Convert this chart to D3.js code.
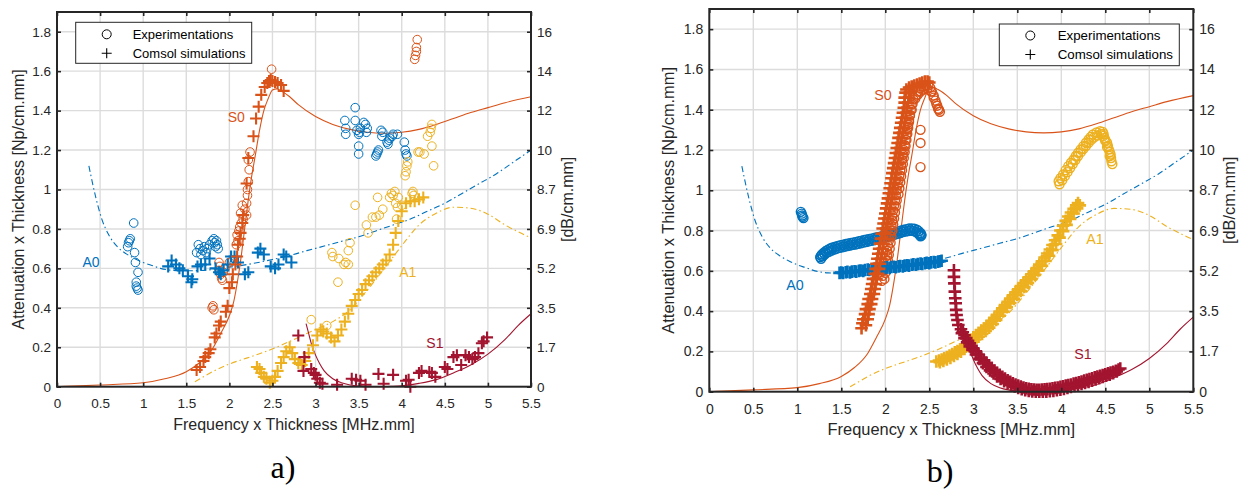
<!DOCTYPE html>
<html><head><meta charset="utf-8">
<script src="https://cdn.jsdelivr.net/npm/d3@7"></script>
<style>
body{margin:0;background:#fff}
svg{display:block}
</style>
</head><body>
<svg id="c" width="1242" height="490"></svg>
<script>
// ---------- ticks ----------
const xTicks = [0,0.5,1,1.5,2,2.5,3,3.5,4,4.5,5,5.5];
const xTickLabels = ["0","0.5","1","1.5","2","2.5","3","3.5","4","4.5","5","5.5"];
const yTicks = [0,0.2,0.4,0.6,0.8,1,1.2,1.4,1.6,1.8];
const yTickLabels = ["0","0.2","0.4","0.6","0.8","1","1.2","1.4","1.6","1.8"];
const yRightTickLabels = ["0","1.7","3.5","5.2","6.9","8.7","10","12","14","16"];

// ---------- theoretical curves (same in both panels) ----------
const thS0X = [0,0.5,1.0,1.25,1.5,1.65,1.8,1.9,2.0,2.05,2.1,2.14,2.18,2.22,2.26,2.3,2.35,2.4,2.45,2.5,2.55,2.6,2.7,2.8,3.0,3.2,3.4,3.6,3.8,4.0,4.2,4.4,4.6,4.8,5.0,5.2,5.5];
const thS0Y = [0,0.009,0.02,0.04,0.076,0.12,0.19,0.27,0.36,0.43,0.55,0.67,0.81,0.95,1.07,1.17,1.30,1.40,1.46,1.505,1.51,1.50,1.47,1.43,1.37,1.33,1.305,1.29,1.285,1.29,1.305,1.33,1.36,1.39,1.415,1.44,1.47];
const thA0X = [0.37,0.45,0.52,0.6,0.7,0.8,0.9,1.0,1.1,1.2,1.35,1.5,1.7,1.9,2.1,2.3,2.5,2.7,2.9,3.1,3.3,3.5,3.7,3.9,4.1,4.3,4.5,4.7,4.9,5.1,5.3,5.5];
const thA0Y = [1.12,0.96,0.85,0.77,0.71,0.675,0.65,0.63,0.615,0.60,0.59,0.588,0.59,0.60,0.612,0.627,0.645,0.665,0.69,0.713,0.737,0.76,0.79,0.82,0.85,0.89,0.93,0.98,1.03,1.08,1.14,1.20];
const thA1X = [1.6,1.7,1.8,2.0,2.2,2.4,2.6,2.8,3.0,3.2,3.4,3.6,3.8,4.0,4.2,4.4,4.6,4.8,5.0,5.2,5.4,5.5];
const thA1Y = [0.025,0.05,0.075,0.115,0.145,0.175,0.21,0.25,0.29,0.33,0.39,0.49,0.6,0.715,0.82,0.88,0.91,0.905,0.875,0.82,0.775,0.755];
const thS1X = [2.89,2.92,2.95,3.0,3.05,3.1,3.2,3.3,3.4,3.5,3.6,3.7,3.8,3.9,4.0,4.2,4.4,4.6,4.8,5.0,5.2,5.35,5.5];
const thS1Y = [0.32,0.27,0.22,0.16,0.115,0.08,0.04,0.02,0.009,0.003,0.0,0.0,0.0,0.002,0.005,0.017,0.036,0.07,0.11,0.165,0.24,0.31,0.37];

// ---------- panel a) measured / simulated points ----------
const aExpA0 = [[0.82,0.71],[0.83,0.73],[0.84,0.74],[0.85,0.75],[0.89,0.83],[0.90,0.68],[0.91,0.63],[0.94,0.58],[0.92,0.53],[0.92,0.51],[0.93,0.50],[0.94,0.49],
 [1.62,0.68],[1.64,0.72],[1.66,0.70],[1.67,0.67],[1.69,0.69],[1.71,0.71],[1.73,0.68],[1.74,0.70],[1.77,0.72],[1.80,0.74],[1.82,0.75],[1.83,0.73],[1.84,0.71],[1.85,0.74],[1.86,0.72],[1.87,0.70],
 [3.34,1.35],[3.35,1.31],[3.35,1.28],[3.46,1.415],[3.46,1.35],[3.48,1.30],[3.50,1.28],[3.51,1.29],[3.52,1.31],[3.50,1.22],[3.50,1.18],[3.56,1.34],[3.58,1.33],[3.60,1.31],[3.59,1.29],
 [3.70,1.17],[3.71,1.18],[3.72,1.19],[3.73,1.20],[3.76,1.30],[3.78,1.29],[3.77,1.27],[3.83,1.24],[3.85,1.25],[3.84,1.23],[3.86,1.26],[3.89,1.27],[3.90,1.28],[3.95,1.28],[4.03,1.24],[4.04,1.20],[4.05,1.18],[4.06,1.17]];
const aSimA0 = [[1.29,0.61],[1.33,0.64],[1.38,0.62],[1.42,0.60],[1.46,0.59],[1.52,0.56],[1.57,0.545],[1.56,0.53],[1.63,0.61],[1.67,0.62],[1.72,0.62],[1.77,0.65],[1.84,0.60],[1.88,0.58],[1.93,0.59],[1.90,0.57],[1.98,0.62],[2.02,0.66],[2.06,0.66],[2.10,0.63],[2.18,0.57],[2.22,0.58],[2.33,0.68],[2.36,0.70],[2.40,0.67],[2.48,0.61],[2.53,0.60],[2.57,0.62],[2.63,0.67],[2.66,0.66],[2.72,0.63]];
const aExpS0 = [[1.80,0.40],[1.81,0.41],[1.82,0.39],[1.88,0.63],[1.89,0.61],[1.88,0.59],[1.90,0.57],[1.91,0.55],[1.92,0.54],[1.93,0.58],[1.95,0.60],[2.00,0.63],[2.04,0.64],[2.08,0.72],[2.10,0.74],[2.09,0.77],[2.11,0.79],[2.12,0.81],[2.14,0.83],[2.16,0.85],[2.13,0.88],[2.15,0.92],[2.18,0.90],[2.20,0.87],[2.20,0.93],[2.21,0.97],[2.21,1.00],[2.22,1.04],[2.23,1.10],[2.22,1.15],[2.24,1.19],
 [2.49,1.61],[4.15,1.66],[4.16,1.68],[4.17,1.70],[4.17,1.72],[4.18,1.76]];
const aSimS0 = [[1.62,0.085],[1.66,0.10],[1.70,0.13],[1.72,0.15],[1.76,0.17],[1.78,0.19],[1.83,0.25],[1.85,0.27],[1.88,0.31],[1.90,0.33],[1.96,0.38],[1.98,0.41],[2.00,0.50],[2.03,0.53],[2.04,0.57],[2.07,0.62],[2.09,0.66],[2.10,0.72],[2.12,0.75],[2.13,0.78],[2.15,0.83],[2.16,0.87],[2.20,1.03],[2.22,1.16],[2.28,1.27],[2.31,1.36],[2.34,1.42],[2.37,1.48],[2.41,1.52],[2.44,1.54],[2.46,1.55],[2.48,1.555],[2.50,1.55],[2.53,1.545],[2.56,1.54],[2.60,1.53],[2.63,1.50]];
const aExpA1 = [[2.95,0.34],[3.13,0.31],[3.19,0.68],[3.20,0.66],[3.26,0.53],[3.27,0.65],[3.33,0.62],[3.35,0.63],[3.38,0.62],[3.38,0.69],[3.40,0.73],[3.46,0.92],[3.59,0.82],[3.61,0.78],[3.66,0.86],[3.70,0.86],[3.72,0.96],[3.74,0.87],[3.78,0.90],[3.86,0.96],[3.88,0.98],[3.90,0.97],[3.92,0.99],[3.93,0.93],[3.95,0.91],[3.96,0.96],[3.94,0.85],[4.00,0.92],[4.04,1.07],[4.05,1.09],[4.06,1.12],[4.07,1.14],[4.12,0.98],[4.13,0.99],[4.14,0.97],[4.19,1.19],[4.21,1.19],[4.26,1.18],[4.30,1.27],[4.33,1.29],[4.34,1.31],[4.35,1.33],[4.35,1.22],[4.37,1.12]];
const aSimA1 = [[2.32,0.10],[2.35,0.09],[2.37,0.07],[2.40,0.05],[2.43,0.04],[2.47,0.02],[2.50,0.03],[2.53,0.05],[2.56,0.08],[2.60,0.12],[2.63,0.15],[2.66,0.18],[2.70,0.20],[2.73,0.17],[2.76,0.14],[2.80,0.12],[2.84,0.11],[2.88,0.13],[2.92,0.17],[2.97,0.21],[3.02,0.26],[3.06,0.29],[3.09,0.28],[3.13,0.27],[3.18,0.25],[3.22,0.23],[3.26,0.26],[3.30,0.29],[3.34,0.33],[3.38,0.37],[3.42,0.41],[3.46,0.44],[3.50,0.47],[3.54,0.49],[3.58,0.52],[3.62,0.54],[3.66,0.56],[3.70,0.58],[3.74,0.60],[3.78,0.62],[3.82,0.64],[3.86,0.67],[3.90,0.72],[3.93,0.78],[3.96,0.84],[4.00,0.89],[4.05,0.93],[4.10,0.94],[4.15,0.94],[4.20,0.95],[4.25,0.96]];
const aSimS1 = [[2.80,0.26],[2.87,0.15],[2.86,0.08],[2.95,0.09],[2.98,0.07],[3.00,0.06],[3.02,0.04],[3.05,0.02],[3.08,0.015],[3.25,0.01],[3.42,0.04],[3.47,0.035],[3.52,0.03],[3.58,0.01],[3.73,0.065],[3.79,0.015],[3.90,0.06],[4.05,0.03],[4.08,0.035],[4.10,0.00],[4.20,0.07],[4.23,0.08],[4.32,0.075],[4.35,0.07],[4.39,0.05],[4.50,0.10],[4.53,0.09],[4.60,0.15],[4.64,0.16],[4.69,0.11],[4.74,0.16],[4.78,0.15],[4.82,0.14],[4.85,0.15],[4.89,0.17],[4.93,0.22],[4.95,0.23],[4.99,0.25]];

// ---------- panel b) measured / simulated points (dense bands: upper and lower edges) ----------
const bExpA0 = [[1.04,0.893],[1.05,0.884],[1.055,0.875],[1.06,0.868],[1.07,0.862],
 [1.26,0.668],[1.27,0.675],[1.28,0.682],[1.30,0.690],[1.32,0.697],[1.34,0.703],[1.36,0.708],[1.38,0.712],[1.40,0.716],[1.43,0.720],[1.46,0.724],[1.49,0.727],[1.52,0.730],[1.55,0.733],[1.58,0.736],[1.61,0.739],[1.64,0.741],[1.67,0.744],[1.70,0.747],[1.73,0.750],[1.76,0.753],[1.79,0.756],[1.82,0.758],[1.85,0.761],[1.88,0.764],[1.91,0.767],[1.94,0.770],[1.97,0.773],[2.00,0.776],[2.03,0.780],[2.06,0.784],[2.09,0.788],[2.12,0.792],[2.15,0.796],[2.18,0.800],[2.21,0.804],[2.24,0.807],[2.27,0.810],[2.30,0.811],[2.33,0.809],[2.36,0.804],[2.38,0.797],[2.40,0.788],[2.41,0.780],[2.41,0.775]];
const bExpA0Low = [[1.27,0.660],[1.29,0.672],[1.31,0.681],[1.33,0.688],[1.36,0.695],[1.39,0.701],[1.42,0.706],[1.45,0.710],[1.48,0.714],[1.51,0.717],[1.54,0.720],[1.57,0.723],[1.60,0.726],[1.63,0.729],[1.66,0.731],[1.69,0.734],[1.72,0.737],[1.75,0.740],[1.78,0.743],[1.81,0.746],[1.84,0.749],[1.87,0.752],[1.90,0.755],[1.93,0.758],[1.96,0.761],[1.99,0.764],[2.02,0.768],[2.05,0.772],[2.08,0.776],[2.11,0.780],[2.14,0.784],[2.17,0.788],[2.20,0.792],[2.23,0.795],[2.26,0.798],[2.29,0.800],[2.32,0.798],[2.35,0.793],[2.37,0.786],[2.39,0.779],[2.40,0.772]];
const bSimA0 = [[1.48,0.590],[1.50,0.592],[1.52,0.589],[1.55,0.593],[1.57,0.595],[1.60,0.592],[1.62,0.596],[1.65,0.598],[1.67,0.596],[1.70,0.600],[1.72,0.602],[1.75,0.600],[1.77,0.604],[1.80,0.606],[1.82,0.604],[1.85,0.608],[1.87,0.610],[1.90,0.608],[1.92,0.612],[1.95,0.613],[1.97,0.611],[2.00,0.615],[2.02,0.617],[2.05,0.615],[2.07,0.619],[2.10,0.620],[2.12,0.618],[2.15,0.622],[2.17,0.624],[2.20,0.622],[2.22,0.626],[2.25,0.628],[2.27,0.626],[2.30,0.630],[2.32,0.632],[2.35,0.630],[2.37,0.634],[2.40,0.636],[2.42,0.634],[2.45,0.638],[2.47,0.640],[2.50,0.638],[2.52,0.642],[2.55,0.644],[2.57,0.642],[2.60,0.646],[2.62,0.648],[2.64,0.650]];
const bExpS0 = [[1.96,0.55],[1.97,0.575],[1.98,0.60],[1.99,0.625],[2.01,0.65],[2.02,0.675],[2.02,0.70],[2.03,0.725],[2.04,0.75],[2.05,0.775],[2.06,0.80],[2.07,0.825],[2.08,0.85],[2.08,0.875],[2.09,0.90],[2.10,0.925],[2.11,0.95],[2.12,0.975],[2.13,1.00],[2.14,1.025],[2.15,1.05],[2.16,1.075],[2.17,1.10],[2.18,1.125],[2.19,1.15],[2.20,1.175],[2.21,1.20],[2.22,1.225],[2.23,1.25],[2.24,1.275],[2.25,1.30],[2.26,1.325],[2.27,1.35],[2.28,1.375],[2.29,1.40],[2.30,1.425],[2.32,1.45],[2.35,1.47],[2.37,1.49],[2.40,1.505],[2.43,1.515],[2.46,1.52],[2.49,1.52],[2.51,1.51],[2.53,1.49],[2.55,1.47],[2.57,1.445],[2.59,1.42],[2.61,1.40],[2.62,1.39],
 [2.40,1.30],[2.40,1.235],[2.40,1.115]];
const bExpS0Right = [[1.99,0.56],[2.00,0.59],[2.01,0.62],[2.03,0.65],[2.04,0.68],[2.05,0.71],[2.06,0.74],[2.07,0.77],[2.08,0.80],[2.09,0.83],[2.10,0.86],[2.11,0.89],[2.12,0.92],[2.13,0.95],[2.15,0.98],[2.16,1.01],[2.17,1.04],[2.18,1.07],[2.19,1.10],[2.20,1.13],[2.21,1.16],[2.22,1.19],[2.23,1.22],[2.24,1.25],[2.25,1.28],[2.26,1.31],[2.27,1.34],[2.28,1.37],[2.30,1.40],[2.31,1.43],[2.34,1.455],[2.37,1.475],[2.40,1.49],[2.44,1.50],[2.48,1.505],[2.52,1.49],[2.55,1.46],[2.58,1.43],[2.60,1.405]];
const bSimS0 = [[1.73,0.315],[1.74,0.34],[1.75,0.36],[1.77,0.385],[1.78,0.41],[1.80,0.435],[1.81,0.46],[1.83,0.485],[1.84,0.51],[1.85,0.535],[1.86,0.56],[1.88,0.585],[1.89,0.61],[1.90,0.635],[1.91,0.66],[1.92,0.685],[1.93,0.71],[1.94,0.735],[1.95,0.76],[1.96,0.785],[1.97,0.81],[1.98,0.835],[1.99,0.86],[2.00,0.885],[2.01,0.91],[2.02,0.935],[2.03,0.96],[2.04,0.985],[2.05,1.01],[2.06,1.035],[2.07,1.06],[2.08,1.085],[2.09,1.11],[2.10,1.135],[2.11,1.16],[2.12,1.185],[2.13,1.21],[2.14,1.235],[2.15,1.26],[2.16,1.285],[2.17,1.31],[2.18,1.335],[2.19,1.36],[2.20,1.385],[2.21,1.41],[2.22,1.435],[2.22,1.46],[2.23,1.485],[2.24,1.50],[2.27,1.51],[2.30,1.515],[2.33,1.52],[2.36,1.525],[2.39,1.53],[2.42,1.535],[2.45,1.54],[2.48,1.54],[2.50,1.535]];
const bSimS0Right = [[1.78,0.33],[1.80,0.36],[1.81,0.385],[1.82,0.41],[1.84,0.435],[1.85,0.46],[1.87,0.485],[1.88,0.51],[1.89,0.535],[1.90,0.56],[1.92,0.585],[1.93,0.61],[1.94,0.635],[1.95,0.66],[1.96,0.685],[1.97,0.71],[1.98,0.735],[1.99,0.76],[2.00,0.785],[2.01,0.81],[2.02,0.835],[2.03,0.86],[2.04,0.885],[2.05,0.91],[2.06,0.935],[2.07,0.96],[2.08,0.985],[2.09,1.01],[2.10,1.035],[2.11,1.06],[2.12,1.085],[2.13,1.11],[2.14,1.135],[2.15,1.16],[2.16,1.185],[2.17,1.21],[2.18,1.235],[2.19,1.26],[2.20,1.285],[2.21,1.31],[2.22,1.335],[2.23,1.36],[2.24,1.385],[2.25,1.41],[2.26,1.435],[2.27,1.46],[2.29,1.485]];
const bExpA1 = [[3.97,1.045],[3.99,1.06],[4.02,1.078],[4.05,1.10],[4.08,1.12],[4.11,1.137],[4.14,1.153],[4.165,1.17],[4.19,1.186],[4.22,1.203],[4.25,1.219],[4.28,1.236],[4.31,1.252],[4.335,1.265],[4.36,1.277],[4.40,1.287],[4.44,1.293],[4.47,1.29],[4.48,1.28],[4.49,1.26],[4.50,1.25],[4.52,1.236],[4.53,1.22],[4.54,1.203],[4.55,1.19],[4.56,1.178],[4.565,1.16],[4.57,1.144]];
const bExpA1Low = [[3.98,1.03],[4.01,1.05],[4.04,1.07],[4.07,1.09],[4.10,1.11],[4.13,1.13],[4.16,1.15],[4.19,1.17],[4.22,1.188],[4.25,1.205],[4.28,1.22],[4.31,1.236],[4.34,1.25],[4.37,1.262],[4.41,1.272],[4.45,1.278],[4.48,1.27],[4.50,1.245],[4.52,1.215],[4.55,1.17],[4.58,1.13]];
const bSimA1 = [[2.58,0.150],[2.61,0.155],[2.64,0.160],[2.67,0.166],[2.70,0.172],[2.73,0.180],[2.76,0.187],[2.79,0.195],[2.82,0.202],[2.85,0.210],[2.88,0.220],[2.91,0.232],[2.94,0.245],[2.97,0.258],[3.00,0.270],[3.03,0.281],[3.06,0.292],[3.09,0.303],[3.12,0.314],[3.15,0.326],[3.18,0.338],[3.21,0.352],[3.24,0.367],[3.27,0.382],[3.30,0.398],[3.33,0.414],[3.36,0.430],[3.39,0.446],[3.42,0.463],[3.45,0.479],[3.48,0.494],[3.51,0.509],[3.54,0.524],[3.57,0.539],[3.60,0.553],[3.63,0.568],[3.66,0.583],[3.69,0.598],[3.72,0.614],[3.75,0.631],[3.78,0.648],[3.81,0.666],[3.84,0.686],[3.87,0.706],[3.90,0.728],[3.93,0.752],[3.96,0.776],[3.99,0.800],[4.02,0.824],[4.05,0.848],[4.08,0.870],[4.11,0.890],[4.14,0.908],[4.17,0.925],[4.19,0.937]];
const bSimA1Low = [[2.62,0.146],[2.66,0.153],[2.70,0.160],[2.74,0.168],[2.78,0.178],[2.82,0.188],[2.86,0.199],[2.90,0.212],[2.94,0.228],[2.98,0.244],[3.02,0.259],[3.06,0.273],[3.10,0.287],[3.14,0.302],[3.18,0.318],[3.22,0.336],[3.26,0.356],[3.30,0.377],[3.34,0.398],[3.38,0.419],[3.42,0.440],[3.46,0.461],[3.50,0.481],[3.54,0.500],[3.58,0.520],[3.62,0.540],[3.66,0.560],[3.70,0.580],[3.74,0.602],[3.78,0.625],[3.82,0.649],[3.86,0.675],[3.90,0.703],[3.94,0.733],[3.98,0.765],[4.02,0.797],[4.06,0.828],[4.10,0.858],[4.14,0.885],[4.18,0.910],[4.21,0.925]];
const bSimS1 = [[2.78,0.603],[2.78,0.570],[2.785,0.538],[2.79,0.497],[2.795,0.464],[2.80,0.439],[2.805,0.406],[2.81,0.381],[2.82,0.356],[2.83,0.331],
 [2.86,0.31],[2.88,0.295],[2.90,0.28],[2.92,0.266],[2.94,0.253],[2.96,0.24],[2.98,0.228],[3.00,0.216],[3.03,0.20],[3.06,0.185],[3.09,0.17],[3.12,0.156],[3.15,0.142],[3.18,0.129],[3.21,0.117],[3.24,0.105],[3.27,0.094],[3.30,0.084],[3.33,0.074],[3.36,0.065],[3.39,0.057],[3.42,0.049],[3.45,0.042],[3.48,0.036],[3.51,0.030],[3.54,0.025],[3.57,0.021],[3.60,0.017],[3.63,0.014],[3.66,0.012],[3.69,0.011],[3.72,0.010],[3.75,0.010],[3.78,0.011],[3.81,0.012],[3.84,0.013],[3.87,0.015],[3.90,0.017],[3.93,0.019],[3.96,0.021],[3.99,0.024],[4.02,0.027],[4.05,0.030],[4.08,0.033],[4.11,0.036],[4.14,0.040],[4.17,0.043],[4.20,0.047],[4.23,0.051],[4.26,0.055],[4.29,0.059],[4.32,0.063],[4.35,0.067],[4.38,0.071],[4.41,0.075],[4.44,0.079],[4.47,0.083],[4.50,0.087],[4.53,0.091],[4.56,0.095],[4.59,0.099],[4.62,0.104],[4.65,0.110],[4.67,0.115]];
const bSimS1Low = [[2.87,0.29],[2.90,0.265],[2.93,0.245],[2.96,0.225],[2.99,0.207],[3.03,0.185],[3.07,0.163],[3.11,0.142],[3.15,0.123],[3.19,0.106],[3.23,0.09],[3.27,0.076],[3.31,0.063],[3.35,0.052],[3.39,0.042],[3.43,0.034],[3.47,0.026],[3.51,0.019],[3.55,0.013],[3.59,0.008],[3.63,0.004],[3.67,0.001],[3.71,0.0],[3.75,0.0],[3.79,0.0],[3.83,0.0],[3.87,0.002],[3.91,0.004],[3.95,0.007],[3.99,0.01],[4.03,0.014],[4.07,0.018],[4.11,0.023],[4.15,0.028],[4.19,0.033],[4.23,0.038],[4.27,0.043],[4.31,0.049],[4.35,0.055],[4.39,0.061],[4.43,0.067],[4.47,0.073],[4.51,0.079],[4.55,0.085],[4.59,0.092],[4.63,0.10]];

// ---------- styling ----------
const C = {A0:"#0072BD", S0:"#D95319", A1:"#EDB120", S1:"#A2142F"};
const AX = "#262626", GRID = "#dcdcdc";
const FONT = '"Liberation Sans", Arial, Helvetica, sans-serif';
const svg = d3.select("#c");
const zip = (X,Y) => X.map((v,i)=>[v,Y[i]]);

function drawPanel(cfg, series) {
  const x = d3.scaleLinear().domain([0,5.5]).range([cfg.left,cfg.right]);
  const y = d3.scaleLinear().domain([0,1.9]).range([cfg.bottom,cfg.top]);
  const g = svg.append("g");
  g.append("g").selectAll("line").data(xTicks.slice(1,-1)).join("line")
    .attr("x1",d=>x(d)).attr("x2",d=>x(d)).attr("y1",cfg.top).attr("y2",cfg.bottom)
    .attr("stroke",GRID).attr("stroke-width",1.4);
  g.append("g").selectAll("line").data(yTicks.slice(1)).join("line")
    .attr("y1",d=>y(d)).attr("y2",d=>y(d)).attr("x1",cfg.left).attr("x2",cfg.right)
    .attr("stroke",GRID).attr("stroke-width",1.4);
  const line = d3.line().x(d=>x(d[0])).y(d=>y(d[1])).curve(d3.curveMonotoneX);
  const dd = "6,3,1.5,3";
  [[zip(thS0X,thS0Y),C.S0,null],[zip(thA0X,thA0Y),C.A0,dd],[zip(thA1X,thA1Y),C.A1,dd],[zip(thS1X,thS1Y),C.S1,null]]
   .forEach(([pts,col,dash])=>{
     g.append("path").attr("d",line(pts)).attr("fill","none").attr("stroke",col)
      .attr("stroke-width",1.1).attr("stroke-dasharray",dash);
   });
  series.filter(s=>s.type==="o").forEach(s=>{
    g.append("g").selectAll("circle").data(s.data).join("circle")
      .attr("cx",d=>x(d[0])).attr("cy",d=>y(d[1])).attr("r",cfg.r)
      .attr("fill","none").attr("stroke",s.color).attr("stroke-width",cfg.cw);
  });
  const ps = cfg.plus;
  series.filter(s=>s.type==="+").forEach(s=>{
    g.append("g").selectAll("path").data(s.data).join("path")
      .attr("d",d=>`M${x(d[0])-ps},${y(d[1])}h${2*ps}M${x(d[0])},${y(d[1])-ps}v${2*ps}`)
      .attr("fill","none").attr("stroke",s.color).attr("stroke-width",cfg.pw);
  });
  cfg.labels.forEach(l=>{
    g.append("text").attr("x",x(l.x)).attr("y",y(l.y)).attr("text-anchor","middle")
      .attr("dominant-baseline","central").attr("font-family",FONT).attr("font-size",cfg.lfs)
      .attr("fill",C[l.t]).text(l.t);
  });
  const style = sel => { sel.select(".domain").remove();
    sel.attr("font-family",FONT).attr("font-size",cfg.fs).attr("color",AX);
    sel.selectAll(".tick line").attr("stroke-width",1.6); };
  g.append("g").attr("transform",`translate(0,${cfg.bottom})`)
    .call(d3.axisBottom(x).tickValues(xTicks).tickFormat((d,i)=>xTickLabels[i]).tickSize(-4).tickPadding(cfg.xpad)).call(style);
  g.append("g").attr("transform",`translate(0,${cfg.top})`)
    .call(d3.axisTop(x).tickValues(xTicks).tickFormat("").tickSize(-4)).call(style);
  g.append("g").attr("transform",`translate(${cfg.left},0)`)
    .call(d3.axisLeft(y).tickValues(yTicks).tickFormat((d,i)=>yTickLabels[i]).tickSize(-4).tickPadding(6)).call(style);
  g.append("g").attr("transform",`translate(${cfg.right},0)`)
    .call(d3.axisRight(y).tickValues(yTicks).tickFormat((d,i)=>yRightTickLabels[i]).tickSize(-4).tickPadding(6)).call(style);
  g.append("rect").attr("x",cfg.left).attr("y",cfg.top).attr("width",cfg.right-cfg.left)
    .attr("height",cfg.bottom-cfg.top).attr("fill","none").attr("stroke",AX).attr("stroke-width",2);
  g.append("text").attr("x",(cfg.left+cfg.right)/2).attr("y",cfg.xlabY).attr("text-anchor","middle")
    .attr("font-family",FONT).attr("font-size",cfg.tfs).attr("fill",AX).text("Frequency x Thickness [MHz.mm]");
  g.append("text").attr("transform",`translate(${cfg.ylabX},${(cfg.top+cfg.bottom)/2}) rotate(-90)`)
    .attr("text-anchor","middle").attr("dominant-baseline","central")
    .attr("font-family",FONT).attr("font-size",cfg.tfs).attr("fill",AX).text("Attenuation x Thickness [Np/cm.mm]");
  g.append("text").attr("transform",`translate(${cfg.y2labX},${(cfg.top+cfg.bottom)/2}) rotate(-90)`)
    .attr("text-anchor","middle").attr("dominant-baseline","central")
    .attr("font-family",FONT).attr("font-size",cfg.tfs).attr("fill",AX).text("[dB/cm.mm]");
  const L = cfg.legend;
  const lg = g.append("g");
  lg.append("rect").attr("x",L.x).attr("y",L.y).attr("width",L.w).attr("height",L.h)
    .attr("fill","#fff").attr("stroke",AX).attr("stroke-width",1);
  lg.append("circle").attr("cx",L.x+L.mx).attr("cy",L.y+L.r1).attr("r",4.5).attr("fill","none").attr("stroke","#000").attr("stroke-width",1);
  lg.append("path").attr("d",`M${L.x+L.mx-5},${L.y+L.r2}h10M${L.x+L.mx},${L.y+L.r2-5}v10`).attr("stroke","#000").attr("stroke-width",1.1);
  lg.append("text").attr("x",L.x+L.tx).attr("y",L.y+L.r1).attr("dominant-baseline","central")
    .attr("font-family",FONT).attr("font-size",L.fs).attr("fill","#000").text("Experimentations");
  lg.append("text").attr("x",L.x+L.tx).attr("y",L.y+L.r2).attr("dominant-baseline","central")
    .attr("font-family",FONT).attr("font-size",L.fs).attr("fill","#000").text("Comsol simulations");
  g.append("text").attr("x",cfg.tag.x).attr("y",cfg.tag.y).attr("text-anchor","middle")
    .attr("font-family",'"Liberation Serif","DejaVu Serif",serif').attr("font-size",cfg.tag.fs)
    .attr("fill","#000").text(cfg.tag.t);
}

drawPanel({left:57,right:531,top:12,bottom:386.7,fs:13.5,tfs:16,lfs:14,xpad:12,r:4.3,plus:6,cw:1,pw:2.1,
  xlabY:430,ylabX:18,y2labX:567,
  labels:[{t:"S0",x:2.08,y:1.368},{t:"A0",x:0.394,y:0.634},{t:"A1",x:4.07,y:0.583},{t:"S1",x:4.385,y:0.222}],
  legend:{x:75.7,y:22.3,w:176,h:41,mx:31,tx:57,r1:12,r2:31,fs:13},
  tag:{x:283,y:478,t:"a)",fs:32}},
 [{type:"o",color:C.A0,data:aExpA0},{type:"o",color:C.S0,data:aExpS0},{type:"o",color:C.A1,data:aExpA1},
  {type:"+",color:C.A0,data:aSimA0},{type:"+",color:C.S0,data:aSimS0},{type:"+",color:C.A1,data:aSimA1},{type:"+",color:C.S1,data:aSimS1}]);

drawPanel({left:709.3,right:1193.3,top:9,bottom:391.7,fs:14,tfs:16.4,lfs:14.3,xpad:12.5,r:4.5,plus:6.3,cw:1.4,pw:2.6,
  xlabY:435,ylabX:668,y2labX:1229,
  labels:[{t:"S0",x:1.974,y:1.473},{t:"A0",x:0.974,y:0.53},{t:"A1",x:4.383,y:0.758},{t:"S1",x:4.246,y:0.185}],
  legend:{x:999.3,y:24,w:180,h:41.7,mx:31,tx:58.4,r1:11.5,r2:30.5,fs:13.3},
  tag:{x:940,y:482,t:"b)",fs:32}},
 [{type:"o",color:C.A0,data:bExpA0},{type:"o",color:C.A0,data:bExpA0Low},
  {type:"o",color:C.S0,data:bExpS0},{type:"o",color:C.S0,data:bExpS0Right},
  {type:"o",color:C.A1,data:bExpA1},{type:"o",color:C.A1,data:bExpA1Low},
  {type:"+",color:C.A0,data:bSimA0},{type:"+",color:C.S0,data:bSimS0},{type:"+",color:C.S0,data:bSimS0Right},
  {type:"+",color:C.A1,data:bSimA1},{type:"+",color:C.A1,data:bSimA1Low},
  {type:"+",color:C.S1,data:bSimS1},{type:"+",color:C.S1,data:bSimS1Low}]);
</script>
</body></html>
